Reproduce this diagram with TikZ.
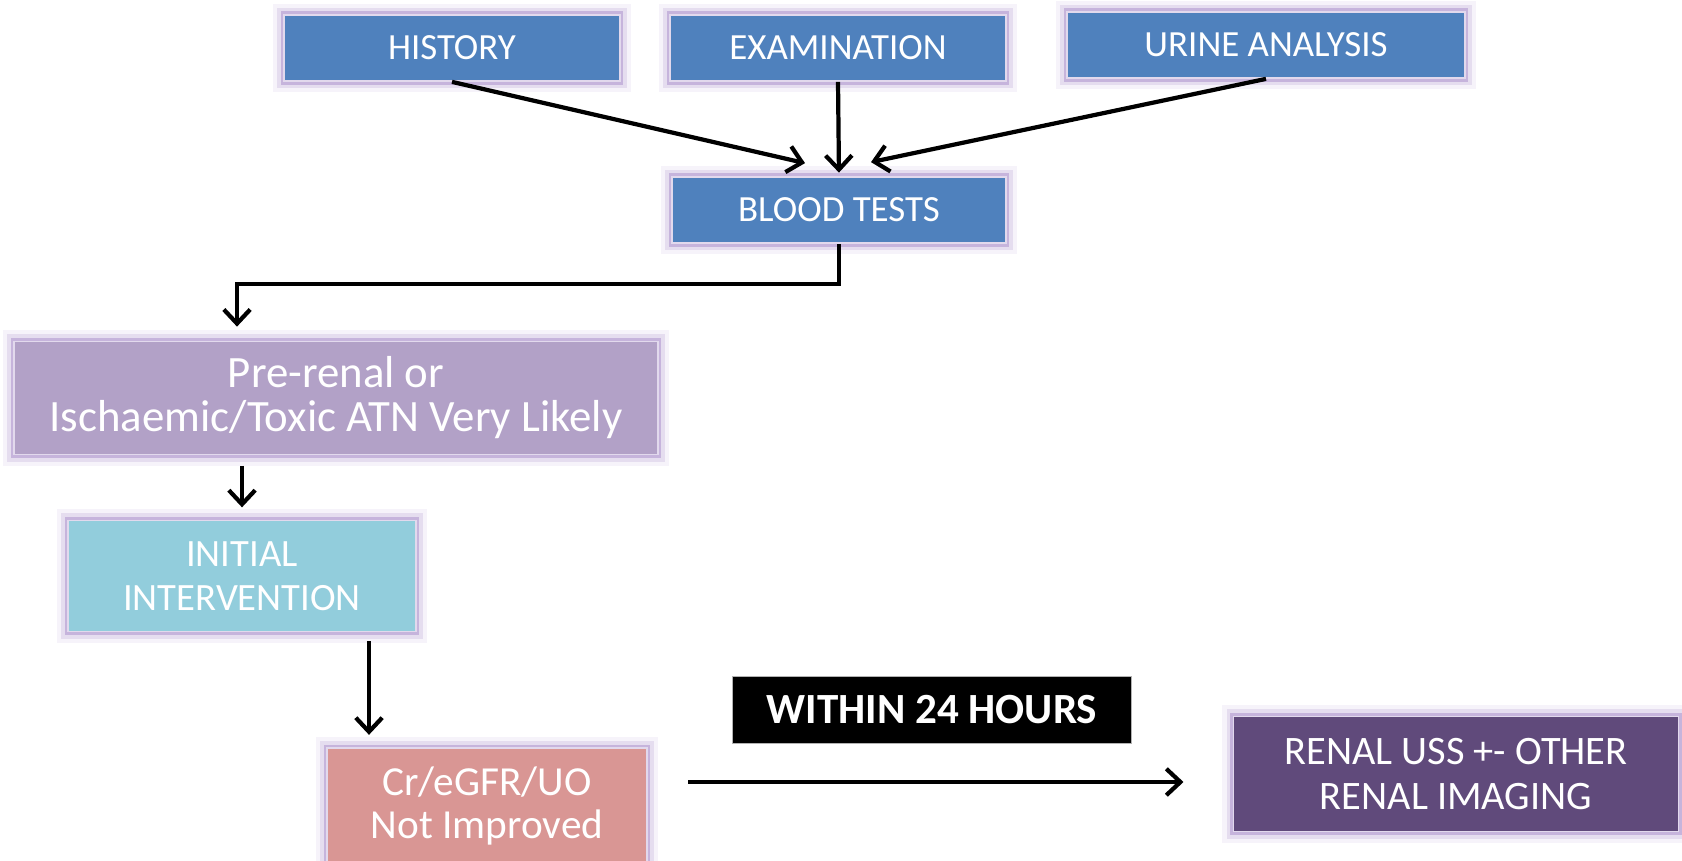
\documentclass[tikz,border=0pt]{standalone}
\usepackage{fontspec}
\setmainfont{Carlito}
\usetikzlibrary{positioning, arrows.meta, calc}
\definecolor{akiblue}{RGB}{79,129,189}
\definecolor{akililac}{RGB}{178,161,199}
\definecolor{akiaqua}{RGB}{146,205,220}
\definecolor{akirose}{RGB}{217,150,148}
\definecolor{akiplum}{RGB}{96,74,123}
\definecolor{glowpurple}{RGB}{140,105,185}
\tikzset{
    glowbox/.style={rectangle, fill=#1, draw=white!75!glowpurple, line width=1pt, text=white, align=center, inner sep=2pt,
      preaction={draw=glowpurple, line width=13pt, opacity=0.08},
      preaction={draw=glowpurple, line width=8pt, opacity=0.16},
      preaction={draw=glowpurple, line width=4pt, opacity=0.35}},
    topbox/.style={glowbox=akiblue, minimum width=6.72cm, minimum height=1.32cm, font=\fontsize{21}{25}\selectfont},
    arr/.style={-{Straight Barb[length=8pt, width=15pt]}, line width=2.4pt, black}
}

\begin{document}
\begin{tikzpicture}[x=0.02cm, y=-0.02cm,
      timebox/.style={rectangle, fill=black, draw=gray!60, minimum width=7.98cm, minimum height=1.34cm,
        text=white, font=\fontsize{24.5}{25}\selectfont\bfseries}
    ]
    \useasboundingbox (0,0) rectangle (1682,861);
    \node[topbox] (history) at (452,48) {HISTORY};
    \node[topbox] (exam) at (838,48) {EXAMINATION};
    \node[topbox, minimum width=7.96cm] (urine) at (1266,45) {URINE ANALYSIS};
    \node[topbox, minimum width=6.68cm] (blood) at (839,210) {BLOOD TESTS};
    \node[glowbox=akililac, minimum width=12.88cm, minimum height=2.26cm, font=\fontsize{25.5}{25}\selectfont] (prerenal) at (336,398) {Pre-renal or\\Ischaemic/Toxic ATN Very Likely};
    \node[glowbox=akiaqua, minimum width=6.96cm, minimum height=2.22cm, font=\fontsize{22}{25}\selectfont] (initial) at (242,576) {INITIAL\\INTERVENTION};
    \node[glowbox=akirose, minimum width=6.4cm, minimum height=2.32cm, font=\fontsize{23.5}{25}\selectfont] (crgfr) at (487,806) {Cr/eGFR/UO\\Not Improved};
    \node[timebox] (within) at (932,710) {WITHIN 24 HOURS};
    \node[glowbox=akiplum, minimum width=8.9cm, minimum height=2.3cm, font=\fontsize{23}{25.5}\selectfont] (renal) at (1456,774) {RENAL USS +- OTHER\\RENAL IMAGING};
    \coordinate (dropx) at (369,0);
    \coordinate (ruley) at (0,782);
    \draw[arr] (history.south) -- ($(blood.north)+(-34,-13)$);
    \draw[arr, shorten >=2pt] (exam.south) -- (blood.north);
    \draw[arr] (urine.south) -- ($(blood.north)+(32,-14)$);
    \draw[arr] (blood.south) -- ++(0,40) -| ($(prerenal.north)+(-99,-14)$);
    \draw[arr, shorten <=6pt, shorten >=7pt] (initial.north |- prerenal.south) -- (initial.north);
    \draw[arr, shorten <=5pt, shorten >=7pt] (dropx |- initial.south) -- (dropx |- crgfr.north);
    \draw[arr, shorten <=23pt, shorten >=28pt] (crgfr.east |- ruley) -- (renal.west |- ruley);
\end{tikzpicture}
\end{document}
